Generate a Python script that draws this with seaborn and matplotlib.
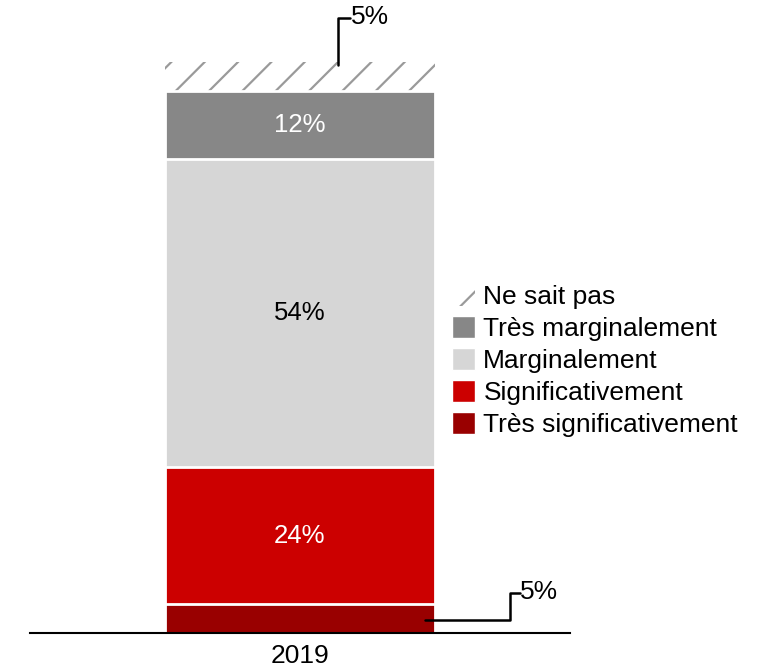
import matplotlib
matplotlib.use("Agg")
import matplotlib.pyplot as plt
import matplotlib.patches as mpatches
import seaborn as sns
import pandas as pd

# data (bottom to top of the stack)
year = "2019"
categories = ["Très significativement", "Significativement", "Marginalement",
              "Très marginalement", "Ne sait pas"]
values = [5, 24, 54, 12, 5]
colors = ["#990000", "#CC0000", "#D6D6D6", "#878787", "white"]
label_colors = [None, "white", "black", "white", None]

sns.set_style("white")
plt.rcParams["font.family"] = ["Liberation Sans", "DejaVu Sans"]
plt.rcParams["text.color"] = "black"
plt.rcParams["xtick.color"] = "black"
plt.rcParams["hatch.color"] = "#9A9A9A"
plt.rcParams["hatch.linewidth"] = 1.6

fig = plt.figure(figsize=(7.63, 6.68), dpi=100)
ax = fig.add_axes([0.0393, 0.0524, 0.7077, 0.940])

df = pd.DataFrame({"category": categories, "value": values})
df["top"] = df["value"].cumsum()
df["bottom"] = df["top"] - df["value"]

# draw cumulative bars from the top down so each one covers the next
for i in reversed(range(len(df))):
    row = df.iloc[i]
    if row["category"] == "Ne sait pas":
        sns.barplot(x=[year], y=[row["top"]], ax=ax, width=0.5, color="white",
                    edgecolor="#9A9A9A", linewidth=0, hatch="/")
    else:
        sns.barplot(x=[year], y=[row["top"]], ax=ax, width=0.5, color=colors[i],
                    edgecolor="white", linewidth=2, saturation=1)

# segment labels
for i, row in df.iterrows():
    if label_colors[i]:
        ax.text(0, (row["bottom"] + row["top"]) / 2, f"{row['value']}%",
                ha="center", va="center", fontsize=18.5, color=label_colors[i])

# callouts for the small segments
top = df.iloc[4]
ax.plot([0.07, 0.07, 0.093], [top["bottom"] + 4.5, 107.7, 107.7], color="black", lw=1.8)
ax.text(0.094, 107.9, f"{top['value']}%", ha="left", va="center", fontsize=19)

bot = df.iloc[0]
ax.plot([0.231, 0.389, 0.389, 0.407], [2.3, 2.3, 7.0, 7.0], color="black", lw=1.8)
ax.text(0.408, 7.2, f"{bot['value']}%", ha="left", va="center", fontsize=19)

ax.set_xlim(-0.5, 0.5)
ax.set_ylim(0, 110)
ax.set_yticks([])
ax.set_xlabel("")
ax.set_ylabel("")
ax.tick_params(axis="x", length=0, labelsize=19, pad=8)
for s in ["left", "right", "top"]:
    ax.spines[s].set_visible(False)
ax.spines["bottom"].set_color("black")
ax.spines["bottom"].set_linewidth(1.5)

handles = []
for i in reversed(range(len(df))):
    if categories[i] == "Ne sait pas":
        handles.append(mpatches.Patch(facecolor="white", edgecolor="#9A9A9A",
                                      linewidth=0, hatch="/", label=categories[i]))
    else:
        handles.append(mpatches.Patch(facecolor=colors[i], label=categories[i]))
fig.legend(handles=handles, loc="center left", bbox_to_anchor=(0.592, 0.460),
           frameon=False, fontsize=19, handlelength=0.9, handleheight=0.9,
           handletextpad=0.3, labelspacing=0.26, borderpad=0, borderaxespad=0)

fig.savefig("out.png", dpi=100)
